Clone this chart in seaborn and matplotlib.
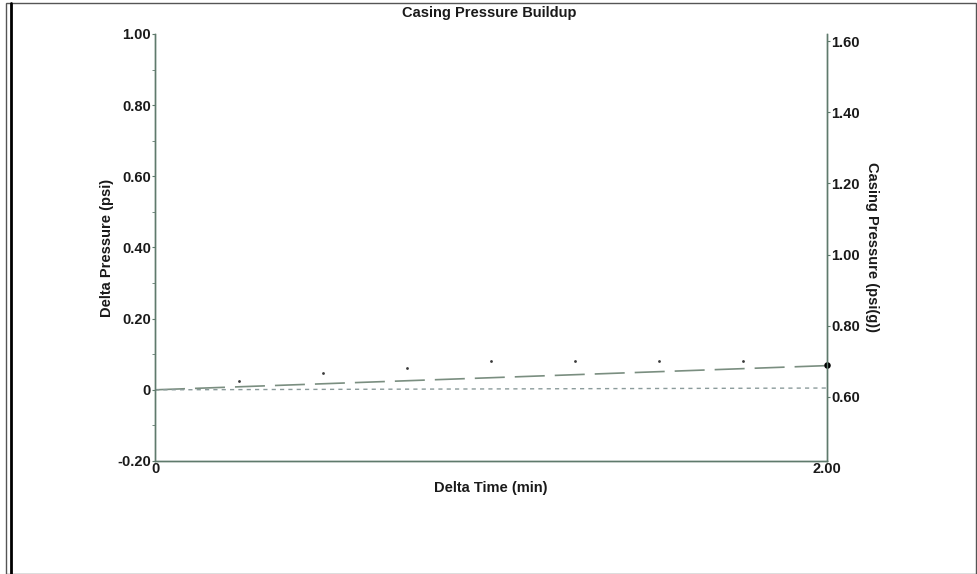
import numpy as np
import pandas as pd
import matplotlib.pyplot as plt
import seaborn as sns
from matplotlib.patches import Rectangle
from matplotlib.ticker import MultipleLocator

# readings taken off the chart
delta_time = [0.25, 0.50, 0.75, 1.00, 1.25, 1.50, 1.75]
casing_pressure = [0.644, 0.667, 0.681, 0.700, 0.700, 0.700, 0.700]
trend_time = [0.0, 2.0]
trend_delta = [0.0, 0.068]
base_delta = [0.0, 0.005]
last_time = [2.0]
last_delta = [0.069]

sns.set_style("ticks")
plt.rcParams['font.family'] = ['Liberation Sans Narrow', 'Liberation Sans', 'DejaVu Sans']
plt.rcParams['font.weight'] = 'bold'
plt.rcParams['text.color'] = '#1a1a1a'
plt.rcParams['axes.labelcolor'] = '#1a1a1a'

spine_col = "#5f7a6c"
txt_col = "#1a1a1a"

fig = plt.figure(figsize=(9.78, 5.74), dpi=100)
ax = fig.add_axes([0.1585, 0.1969, 0.6871, 0.7439])
ax2 = ax.twinx()

trend = pd.DataFrame({"t": trend_time, "trend": trend_delta, "base": base_delta})
sns.lineplot(data=trend, x="t", y="trend", ax=ax, color="#7a8e80", lw=1.2,
             linestyle=(0, (18, 6)))
sns.lineplot(data=trend, x="t", y="base", ax=ax, color="#8b9b9b", lw=1.0,
             linestyle=(0, (3, 3)))
sns.scatterplot(x=last_time, y=last_delta, ax=ax, color="black", s=22,
                linewidth=0, clip_on=False, zorder=5)

pts = pd.DataFrame({"t": delta_time, "cp": casing_pressure})
sns.scatterplot(data=pts, x="t", y="cp", ax=ax2, color="#3a3a3a", s=4, linewidth=0)

ax.set_xlim(0, 2.0)
ax.set_ylim(-0.20, 1.00)
ax2.set_ylim(0.42, 1.62)

ax.set_xticks([0, 2.0])
ax.set_xticklabels(["0", "2.00"])
ax.set_yticks([-0.2, 0, 0.2, 0.4, 0.6, 0.8, 1.0])
ax.set_yticklabels(["-0.20", "0", "0.20", "0.40", "0.60", "0.80", "1.00"])
ax.yaxis.set_minor_locator(MultipleLocator(0.1))
ax2.set_yticks([0.6, 0.8, 1.0, 1.2, 1.4, 1.6])
ax2.set_yticklabels(["0.60", "0.80", "1.00", "1.20", "1.40", "1.60"])

for a in (ax, ax2):
    a.spines["top"].set_visible(False)
    for s in ("left", "right", "bottom"):
        a.spines[s].set_color(spine_col)
        a.spines[s].set_linewidth(1.0)
    a.tick_params(axis="both", which="major", length=2, width=0.8, color=spine_col,
                  labelsize=10.5, pad=1, labelcolor=txt_col)
    a.tick_params(axis="y", which="minor", length=2, width=0.6, color=spine_col)
    for lbl in a.get_xticklabels() + a.get_yticklabels():
        lbl.set_fontweight("bold")
ax.tick_params(axis="x", length=0, pad=1)

ax.set_xlabel("Delta Time (min)", fontsize=10.5, fontweight="bold", labelpad=3)
ax.set_ylabel("Delta Pressure (psi)", fontsize=10.5, fontweight="bold", labelpad=2)
ax2.set_ylabel("Casing Pressure (psi(g))", fontsize=10.5, fontweight="bold",
               rotation=-90, labelpad=14)
fig.text(0.5, 0.978, "Casing Pressure Buildup", ha="center", va="center",
         fontsize=10.5, fontweight="bold")

# scanned page frame
fig.patches.append(Rectangle((0.006, 0.0), 0.992, 0.994, transform=fig.transFigure,
                             fill=False, edgecolor="#555555", lw=1.0))
fig.lines.append(plt.Line2D([0.011, 0.011], [0.0, 0.994], transform=fig.transFigure,
                            color="black", lw=2.0))

fig.savefig("out.png", dpi=100)
